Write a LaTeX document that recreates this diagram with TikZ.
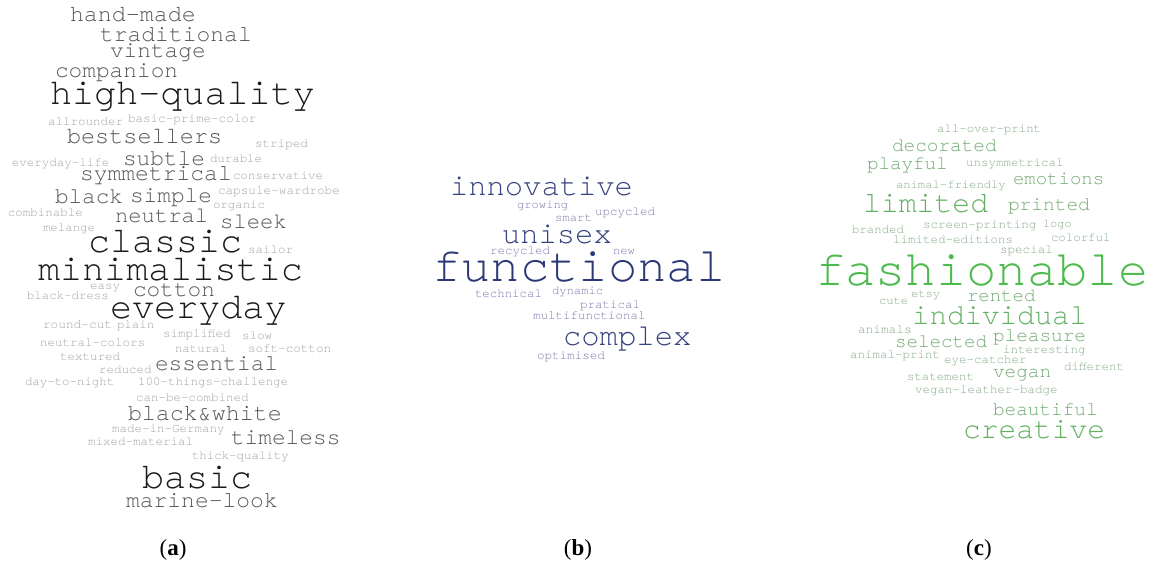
\documentclass[tikz,border=0pt]{standalone}
\usepackage{fontspec}
\setmainfont{Liberation Serif}
\newfontfamily\monof{TeX Gyre Cursor}
\definecolor{adark}{HTML}{1A1A1A}
\definecolor{amid}{HTML}{555555}
\definecolor{alight}{HTML}{A4A4A4}
\definecolor{bbig}{HTML}{2B3875}
\definecolor{bmid}{HTML}{36427E}
\definecolor{blight}{HTML}{8078AD}
\definecolor{cbig}{HTML}{4CBB4C}
\definecolor{cmid}{HTML}{62B062}
\definecolor{csmall}{HTML}{72AA72}
\definecolor{clight}{HTML}{88AC88}
\tikzset{cwd/.style={anchor=base west, inner sep=0pt, outer sep=0pt},
  capt/.style={anchor=base, inner sep=0pt, font=\fontsize{23}{23}\selectfont}}
\newcommand\cw[6]{\node[cwd, text=#4, font=\fontsize{#3}{#3}\selectfont\monof] (#6) at (#1,#2) {#5};}
\begin{document}
\begin{tikzpicture}[x=1pt,y=-1pt]
\useasboundingbox (0,0) rectangle (1154,567);
\fill[white] (0,0) rectangle (1154,567);
% ---------- (a)
\cw{70}{22}{23.3}{amid}{hand-made}{a1}
\cw{100}{42}{23}{amid}{traditional}{a2}
\cw{110}{58}{22.8}{amid}{vintage}{a3}
\cw{55}{78}{22.8}{amid}{companion}{a4}
\cw{50}{105}{36.8}{adark}{high-quality}{a5}
\cw{48}{126}{12.5}{alight}{allrounder}{a6}
\cw{128}{123}{12.6}{alight}{basic-prime-color}{a7}
\cw{67}{143}{23.5}{amid}{bestsellers}{a8}
\cw{255}{148}{12.6}{alight}{striped}{a9}
\cw{123}{165}{22.8}{amid}{subtle}{a10}
\cw{210}{162}{12.4}{alight}{durable}{a11}
\cw{12}{167}{12.5}{alight}{everyday-life}{a12}
\cw{80}{180}{23}{amid}{symmetrical}{a13}
\cw{233}{179}{12.5}{alight}{conservative}{a14}
\cw{55}{203}{22.7}{amid}{black}{a15}
\cw{130}{202}{22.8}{amid}{simple}{a16}
\cw{218}{194}{12.7}{alight}{capsule-wardrobe}{a17}
\cw{213}{208}{12.4}{alight}{organic}{a18}
\cw{8}{216}{12.5}{alight}{combinable}{a19}
\cw{115}{222}{22.2}{amid}{neutral}{a20}
\cw{220}{228}{22.3}{amid}{sleek}{a21}
\cw{43}{231}{12.4}{alight}{melange}{a22}
\cw{88}{252}{36.7}{adark}{classic}{a23}
\cw{248}{253}{12.5}{alight}{sailor}{a24}
\cw{38}{280}{36.8}{adark}{minimalistic}{a25}
\cw{90}{289}{12.5}{alight}{easy}{a26}
\cw{133}{296}{22.8}{amid}{cotton}{a27}
\cw{27}{299}{12.4}{alight}{black-dress}{a28}
\cw{110}{318}{36.8}{adark}{everyday}{a29}
\cw{43}{328}{12.8}{alight}{round-cut}{a30}
\cw{117}{328}{12.4}{alight}{plain}{a31}
\cw{163}{337}{12.5}{alight}{simplified}{a32}
\cw{242}{339}{12.5}{alight}{slow}{a33}
\cw{40}{346}{12.5}{alight}{neutral-colors}{a34}
\cw{175}{352}{12.4}{alight}{natural}{a35}
\cw{248}{352}{12.6}{alight}{soft-cotton}{a36}
\cw{60}{360}{12.5}{alight}{textured}{a37}
\cw{99}{373}{12.5}{alight}{reduced}{a38}
\cw{155}{370}{22.8}{amid}{essential}{a39}
\cw{25}{385}{12.4}{alight}{day-to-night}{a40}
\cw{138}{385}{12.5}{alight}{100-things-challenge}{a41}
\cw{136}{401}{12.5}{alight}{can-be-combined}{a42}
\cw{128}{420}{23.3}{amid}{black\&white}{a43}
\cw{112}{432}{12.5}{alight}{made-in-Germany}{a44}
\cw{231}{444}{22.8}{amid}{timeless}{a45}
\cw{88}{445}{12.5}{alight}{mixed-material}{a46}
\cw{192}{459}{12.4}{alight}{thick-quality}{a47}
\cw{142}{488}{36.7}{adark}{basic}{a48}
\cw{126}{507}{23}{amid}{marine-look}{a49}
% ---------- (b)
\cw{450}{195}{30.5}{bmid}{innovative}{b1}
\cw{517}{208}{12.2}{blight}{growing}{b2}
\cw{595}{215}{12.5}{blight}{upcycled}{b3}
\cw{555}{221}{12.3}{blight}{smart}{b4}
\cw{502}{243}{30.5}{bmid}{unisex}{b5}
\cw{490}{254}{12.5}{blight}{recycled}{b6}
\cw{613}{254}{12.2}{blight}{new}{b7}
\cw{432}{281}{48.9}{bbig}{functional}{b8}
\cw{475}{297}{12.4}{blight}{technical}{b9}
\cw{552}{294}{12.2}{blight}{dynamic}{b10}
\cw{580}{308}{12.5}{blight}{pratical}{b11}
\cw{533}{319}{12.5}{blight}{multifunctional}{b12}
\cw{563}{345}{30.6}{bmid}{complex}{b13}
\cw{537}{359}{12.6}{blight}{optimised}{b14}
% ---------- (c)
\cw{937}{133}{12.4}{clight}{all-over-print}{c1}
\cw{892}{152}{19.4}{csmall}{decorated}{c2}
\cw{867}{169}{19.2}{csmall}{playful}{c3}
\cw{966}{167}{12.5}{clight}{unsymmetrical}{c4}
\cw{896}{188}{12.2}{clight}{animal-friendly}{c5}
\cw{1013}{185}{19}{csmall}{emotions}{c6}
\cw{863}{212}{29.8}{cmid}{limited}{c7}
\cw{1008}{210}{19.5}{csmall}{printed}{c8}
\cw{852}{233}{12.4}{clight}{branded}{c9}
\cw{923}{228}{12.6}{clight}{screen-printing}{c10}
\cw{1043}{227}{12}{clight}{logo}{c11}
\cw{893}{243}{12.5}{clight}{limited-editions}{c12}
\cw{1051}{241}{12.4}{clight}{colorful}{c13}
\cw{1000}{253}{12.6}{clight}{special}{c14}
\cw{815}{285}{50.5}{cbig}{fashionable}{c15}
\cw{879}{304}{12.2}{clight}{cute}{c16}
\cw{911}{297}{12.2}{clight}{etsy}{c17}
\cw{967}{301}{19}{csmall}{rented}{c18}
\cw{912}{324}{29.2}{cmid}{individual}{c19}
\cw{858}{333}{12.8}{clight}{animals}{c20}
\cw{895}{347}{19.2}{csmall}{selected}{c21}
\cw{993}{341}{19.4}{csmall}{pleasure}{c22}
\cw{1003}{353}{12.5}{clight}{interesting}{c23}
\cw{850}{358}{12.5}{clight}{animal-print}{c24}
\cw{944}{363}{12.5}{clight}{eye-catcher}{c25}
\cw{1064}{370}{12.5}{clight}{different}{c26}
\cw{907}{380}{12.4}{clight}{statement}{c27}
\cw{993}{377}{19.4}{csmall}{vegan}{c28}
\cw{915}{393}{12.5}{clight}{vegan-leather-badge}{c29}
\cw{993}{415}{19.4}{csmall}{beautiful}{c30}
\cw{963}{438}{29.6}{cmid}{creative}{c31}
% ---------- captions
\node[capt] (capa) at (173,555) {(\textbf{a})};
\node[capt] (capb) at (578,555) {(\textbf{b})};
\node[capt] (capc) at (979,555) {(\textbf{c})};
\end{tikzpicture}
\end{document}
